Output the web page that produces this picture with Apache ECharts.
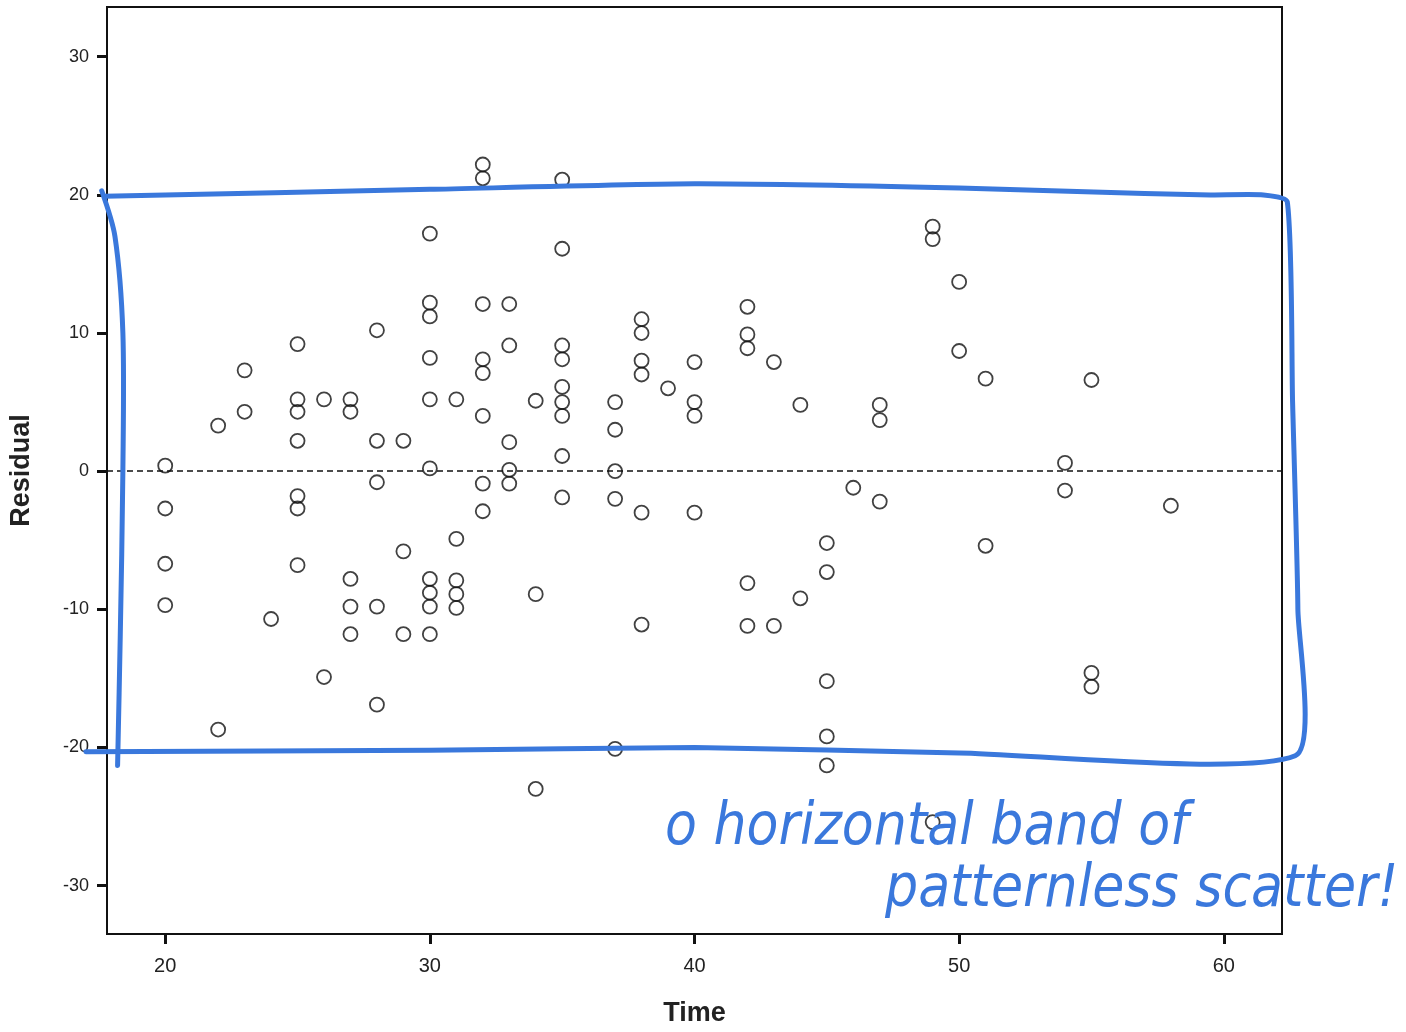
<!DOCTYPE html>
<html>
<head>
<meta charset="utf-8">
<script src="https://cdn.jsdelivr.net/npm/echarts@6/dist/echarts.min.js"></script>
<style>
    html, body { margin: 0; padding: 0; background: #fff; }
    #chart { width: 1406px; height: 1032px; }
</style>
</head>
<body>
<div id="chart"></div>
<script>
    // 数据：时间 与 残差 (一一对应)
    const timeValues = [
        20, 20, 20, 20,
        22, 22,
        23, 23,
        24,
        25, 25, 25, 25, 25, 25, 25,
        26, 26,
        27, 27, 27, 27, 27,
        28, 28, 28, 28, 28,
        29, 29, 29,
        30, 30, 30, 30, 30, 30, 30, 30, 30, 30,
        31, 31, 31, 31, 31,
        32, 32, 32, 32, 32, 32, 32, 32,
        33, 33, 33, 33, 33,
        34, 34, 34,
        35, 35, 35, 35, 35, 35, 35, 35, 35,
        37, 37, 37, 37, 37,
        38, 38, 38, 38, 38, 38,
        39,
        40, 40, 40, 40,
        42, 42, 42, 42, 42,
        43, 43,
        44, 44,
        45, 45, 45, 45, 45,
        46,
        47, 47, 47,
        49, 49, 49,
        50, 50,
        51, 51,
        54, 54,
        55, 55, 55,
        58
    ];
    const residualValues = [
        0.4, -2.7, -6.7, -9.7,
        3.3, -18.7,
        7.3, 4.3,
        -10.7,
        9.2, 5.2, 4.3, 2.2, -1.8, -2.7, -6.8,
        5.2, -14.9,
        5.2, 4.3, -7.8, -9.8, -11.8,
        10.2, 2.2, -0.8, -9.8, -16.9,
        2.2, -5.8, -11.8,
        17.2, 12.2, 11.2, 8.2, 5.2, 0.2, -7.8, -8.8, -9.8, -11.8,
        5.2, -4.9, -7.9, -8.9, -9.9,
        22.2, 21.2, 12.1, 8.1, 7.1, 4.0, -0.9, -2.9,
        12.1, 9.1, 2.1, 0.1, -0.9,
        5.1, -8.9, -23.0,
        21.1, 16.1, 9.1, 8.1, 6.1, 5.0, 4.0, 1.1, -1.9,
        5.0, 3.0, 0.0, -2.0, -20.1,
        11.0, 10.0, 8.0, 7.0, -3.0, -11.1,
        6.0,
        7.9, 5.0, 4.0, -3.0,
        11.9, 9.9, 8.9, -8.1, -11.2,
        7.9, -11.2,
        4.8, -9.2,
        -5.2, -7.3, -15.2, -19.2, -21.3,
        -1.2,
        4.8, 3.7, -2.2,
        17.7, 16.8, -25.4,
        13.7, 8.7,
        6.7, -5.4,
        0.6, -1.4,
        6.6, -14.6, -15.6,
        -2.5
    ];
    const xTicks = [20, 30, 40, 50, 60];
    const yTicks = [-30, -20, -10, 0, 10, 20, 30];

    // 手写标注：蓝色框 (Time, Residual)
    const bandFrameX = [17.7, 30, 40, 50, 57, 59.5, 61.5, 62.4, 62.6, 62.8, 62.7, 50, 40, 30, 17.0];
    const bandFrameY = [19.9, 20.4, 20.8, 20.5, 20.1, 20.0, 20.0, 19.5, 5, -10, -20.6, -20.4, -20.0, -20.2, -20.3];
    const bandLeftX = [17.6, 18.1, 18.4, 18.4, 18.3, 18.2];
    const bandLeftY = [20.3, 17, 10, 0, -12, -21.3];

    const chart = echarts.init(document.getElementById('chart'));

    const points = timeValues.map(function (t, i) {
        return [t, residualValues[i]];
    });

    const axisFont = 'Liberation Sans, Arial';
    const option = {
        backgroundColor: '#ffffff',
        animation: false,
        grid: {
            left: 106,
            right: 124,
            top: 7,
            bottom: 95,
            show: true,
            borderColor: '#111',
            borderWidth: 2,
            containLabel: false
        },
        xAxis: {
            type: 'value',
            min: 17.8,
            max: 62.2,
            name: 'Time',
            nameLocation: 'middle',
            nameGap: 66,
            nameTextStyle: {
                fontFamily: 'Liberation Sans Narrow, Liberation Sans, Arial',
                fontWeight: 'bold',
                fontSize: 27,
                color: '#222'
            },
            splitLine: { show: false },
            axisLine: { onZero: false, lineStyle: { color: '#111', width: 2 } },
            axisTick: {
                customValues: xTicks,
                length: 10,
                lineStyle: { color: '#111', width: 3 }
            },
            axisLabel: {
                customValues: xTicks,
                margin: 22,
                fontFamily: 'Liberation Sans Narrow, ' + axisFont,
                fontSize: 20,
                color: '#222'
            }
        },
        yAxis: {
            type: 'value',
            min: -33.5,
            max: 33.6,
            name: 'Residual',
            nameLocation: 'middle',
            nameGap: 72,
            nameTextStyle: {
                fontFamily: 'Liberation Sans Narrow, Liberation Sans, Arial',
                fontWeight: 'bold',
                fontSize: 27,
                color: '#222'
            },
            splitLine: { show: false },
            axisLine: { onZero: false, lineStyle: { color: '#111', width: 2 } },
            axisTick: {
                customValues: yTicks,
                length: 10,
                lineStyle: { color: '#111', width: 3 }
            },
            axisLabel: {
                customValues: yTicks,
                margin: 18,
                fontFamily: axisFont,
                fontSize: 18,
                color: '#222'
            }
        },
        series: [
            {
                name: 'Residual',
                type: 'scatter',
                data: points,
                symbol: 'circle',
                symbolSize: 14,
                itemStyle: {
                    color: 'rgba(255,255,255,0)',
                    borderColor: '#111',
                    borderWidth: 1.8
                },
                markLine: {
                    silent: true,
                    symbol: 'none',
                    label: { show: false },
                    lineStyle: { color: '#111', type: [6, 4], width: 1.6 },
                    data: [{ yAxis: 0 }]
                },
                z: 3
            }
        ],
        graphic: [
            {
                type: 'text',
                left: 665,
                top: 800,
                style: {
                    text: 'o horizontal band of',
                    fill: '#3a78dc',
                    font: 'italic 58px "Liberation Sans Narrow", "DejaVu Sans Condensed", sans-serif'
                },
                z: 10
            },
            {
                type: 'text',
                left: 885,
                top: 862,
                style: {
                    text: 'patternless scatter!',
                    fill: '#3a78dc',
                    font: 'italic 58px "Liberation Sans Narrow", "DejaVu Sans Condensed", sans-serif'
                },
                z: 10
            }
        ]
    };
    chart.setOption(option);

    // 蓝色手绘框：通过坐标轴换算到像素
    function toPixels(xs, ys) {
        return xs.map(function (t, i) {
            return chart.convertToPixel({ gridIndex: 0 }, [t, ys[i]]);
        });
    }
    const boxStyle = { stroke: '#3a78dc', lineWidth: 5, fill: null, lineCap: 'round', lineJoin: 'round' };
    chart.setOption({
        graphic: [
            {
                id: 'band-frame',
                type: 'polyline',
                shape: { points: toPixels(bandFrameX, bandFrameY), smooth: 0.2 },
                style: boxStyle,
                z: 9
            },
            {
                id: 'band-left',
                type: 'polyline',
                shape: { points: toPixels(bandLeftX, bandLeftY), smooth: 0.3 },
                style: boxStyle,
                z: 9
            }
        ]
    });

    window.onresize = function () {
        chart.resize();
    };
</script>
</body>
</html>
